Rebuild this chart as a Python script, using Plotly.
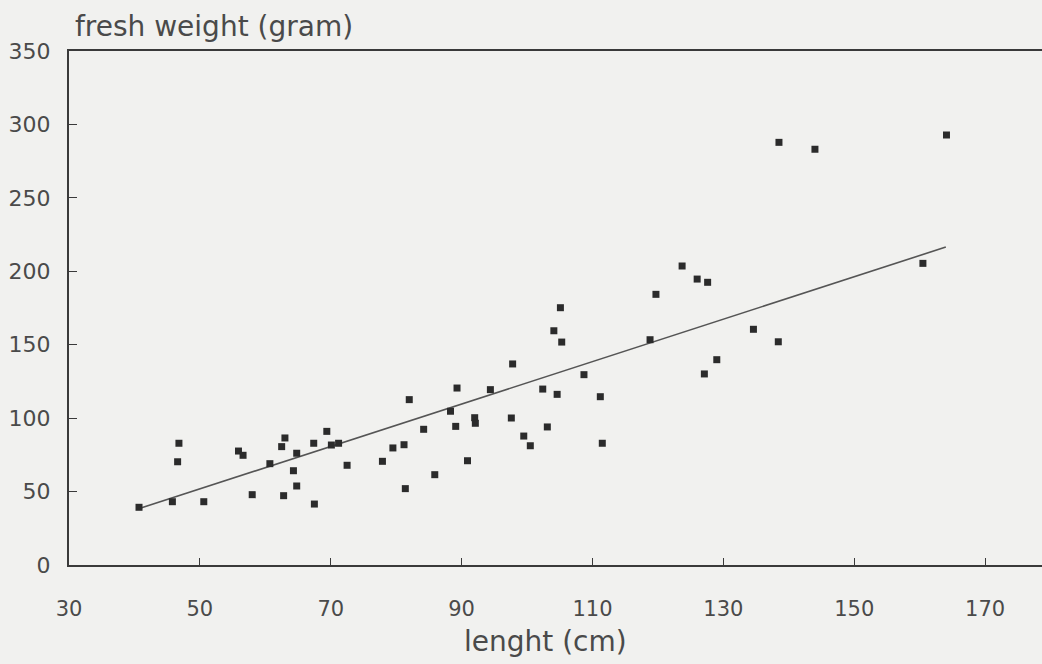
import plotly.graph_objects as go

# Data
length_cm = [40.7, 45.8, 46.8, 46.6, 50.6, 55.9, 56.6, 58.0, 60.7, 62.5,
             63.0, 62.8, 64.8, 64.3, 64.8, 67.4, 67.5, 69.4, 70.1, 71.2,
             72.5, 77.9, 79.5, 81.2, 81.4, 82.0, 84.2, 85.9, 88.3, 89.1,
             89.3, 90.9, 92.0, 92.1, 94.4, 97.6, 97.8, 99.5, 100.5, 102.4,
             103.1, 104.6, 104.1, 105.1, 105.3, 108.7, 111.2, 111.5, 118.8, 119.7,
             123.7, 126.0, 127.6, 127.1, 129.0, 134.6, 138.4, 138.5, 144.0, 160.5,
             164.1]
fresh_weight_g = [39.3, 43.1, 82.9, 70.3, 43.1, 77.6, 74.7, 47.9, 69.0, 80.6,
                  86.5, 47.2, 76.1, 64.2, 53.8, 82.9, 41.5, 91.0, 81.7, 82.9,
                  67.9, 70.6, 79.7, 81.9, 52.0, 112.6, 92.4, 61.5, 104.7, 94.4,
                  120.5, 71.0, 100.3, 96.5, 119.4, 100.1, 136.9, 87.8, 81.2, 119.8,
                  94.0, 116.2, 159.5, 175.2, 151.8, 129.6, 114.6, 82.9, 153.4, 184.3,
                  203.6, 194.7, 192.5, 130.1, 139.8, 160.5, 152.0, 287.8, 283.1, 205.4,
                  292.8]

# Regression line end points
fit_x = [41.1, 164.0]
fit_y = [39.0, 216.5]

x_ticks = [30, 50, 70, 90, 110, 130, 150, 170]
y_ticks = [0, 50, 100, 150, 200, 250, 300, 350]

bg = "#f1f1ef"
ink = "#3a3a3a"
txt = "#4a4a4a"
font_family = "DejaVu Sans"

fig = go.Figure()
fig.add_trace(go.Scatter(
    x=fit_x, y=fit_y, mode="lines",
    line=dict(color="#555555", width=1.6),
    hoverinfo="skip", showlegend=False))
fig.add_trace(go.Scatter(
    x=length_cm, y=fresh_weight_g, mode="markers",
    marker=dict(symbol="square", size=7, color="#2b2b2b"),
    showlegend=False))

fig.update_layout(
    width=1042, height=664,
    margin=dict(l=69, r=0, t=51, b=99),
    paper_bgcolor=bg, plot_bgcolor=bg,
    font=dict(family=font_family, size=21, color=txt),
    xaxis=dict(
        range=[30, 178.7], tickvals=x_ticks, ticktext=[str(v) for v in x_ticks],
        ticks="inside", ticklen=7, tickwidth=1.2, tickcolor=ink,
        showline=True, linecolor=ink, linewidth=2, mirror=True,
        showgrid=False, zeroline=False, ticklabelstandoff=24,
        tickfont=dict(family=font_family, size=21, color=txt),
    ),
    yaxis=dict(
        range=[0, 350], tickvals=y_ticks, ticktext=[str(v) for v in y_ticks],
        ticks="inside", ticklen=8, tickwidth=1.2, tickcolor=ink,
        showline=True, linecolor=ink, linewidth=2, mirror=False,
        showgrid=False, zeroline=False, ticklabelstandoff=12,
        tickfont=dict(family=font_family, size=22, color=txt),
    ),
    annotations=[
        dict(text="fresh weight (gram)", xref="paper", yref="paper",
             x=0.004, y=1.0, yshift=6, xanchor="left", yanchor="bottom",
             showarrow=False, font=dict(family=font_family, size=28, color=txt)),
        dict(text="lenght (cm)", xref="paper", yref="paper",
             x=0.49, y=0, yshift=-58, xanchor="center", yanchor="top",
             showarrow=False, font=dict(family=font_family, size=28, color=txt)),
    ],
)

fig.write_html(
    "out.html",
    config={"displayModeBar": False},
    post_script="document.body.style.margin='0px';document.body.style.background='#f1f1ef';",
)
